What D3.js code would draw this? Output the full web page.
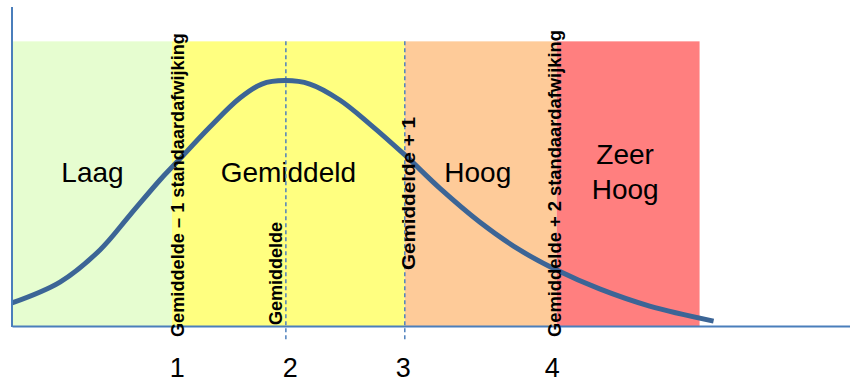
<!DOCTYPE html>
<html><head><meta charset="utf-8">
<script src="https://cdn.jsdelivr.net/npm/d3@7"></script>
<style>html,body{margin:0;padding:0;background:#fff;}svg{display:block;font-family:"Liberation Sans",Arial,sans-serif;}</style>
</head><body><svg id="c" width="850" height="382"></svg>
<script>
// ---- data ----
const bandNames = [["Laag"], ["Gemiddeld"], ["Hoog"], ["Zeer", "Hoog"]];
const bandEdges = [-0.451, 0.956, 3.018, 4.363, 5.628];
const bandTop = 1.16;
const bandColors = ["#e6fdd0", "#ffff80", "#fecb99", "#ff7f7f"];
const curveX = [-0.46, -0.035, 0.319, 0.584, 0.850, 1.0, 1.292, 1.558, 1.752, 1.956, 2.177, 2.442, 2.708, 3.018, 3.327, 3.681, 4.035, 4.363, 4.743, 5.186, 5.752];
const curveY = [0.094, 0.179, 0.310, 0.452, 0.595, 0.668, 0.811, 0.929, 0.986, 1.0, 0.986, 0.921, 0.823, 0.697, 0.562, 0.424, 0.310, 0.228, 0.151, 0.081, 0.020];
const dashedX = [1.965, 3.018];
const tickValues = [1, 2, 3, 4.32];
const tickLabels = ["1", "2", "3", "4"];
const annoLabels = ["Gemiddelde \u2013 1 standaardafwijking", "Gemiddelde", "Gemiddelde + 1", "Gemiddelde + 2 standaardafwijking"];
const annoX = [1.062, 1.929, 3.106, 4.398];
const annoY = [-0.045, 0.004, 0.228, -0.045];

// ---- layout ----
const svg = d3.select("#c");
const x = d3.scaleLinear().domain([-0.46, 6.96]).range([12, 850]);
const y = d3.scaleLinear().domain([0, 1.3]).range([326, 7]);

// bands
const bands = bandNames.map((n, i) => ({name: n, x0: bandEdges[i], x1: bandEdges[i + 1], color: bandColors[i]}));
svg.append("g").selectAll("rect").data(bands).join("rect")
  .attr("x", d => x(d.x0)).attr("width", d => x(d.x1) - x(d.x0))
  .attr("y", y(bandTop)).attr("height", y(0) - y(bandTop))
  .attr("fill", d => d.color);

// band labels
const lab = svg.append("g").selectAll("text").data(bands).join("text")
  .attr("text-anchor", "middle").attr("font-size", 28).attr("fill", "#000")
  .attr("x", d => x((d.x0 + d.x1) / 2) - (d.name.length > 1 || d.name[0] === "Hoog" ? 3 : 0));
lab.each(function(d) {
  const t = d3.select(this);
  if (d.name.length === 1) {
    t.append("tspan").attr("x", t.attr("x")).attr("y", 182).text(d.name[0]);
  } else {
    d.name.forEach((s, j) => t.append("tspan").attr("x", t.attr("x")).attr("y", 164 + j * 35).text(s));
  }
});

// dashed lines
svg.append("g").selectAll("line").data(dashedX).join("line")
  .attr("x1", d => x(d)).attr("x2", d => x(d))
  .attr("y1", y(bandTop)).attr("y2", 340)
  .attr("stroke", "#4f81bd").attr("stroke-width", 1.5).attr("stroke-dasharray", "4,3");

// curve
const pts = curveX.map((v, i) => [v, curveY[i]]);
svg.append("path").datum(pts)
  .attr("d", d3.line().x(d => x(d[0])).y(d => y(d[1])).curve(d3.curveCatmullRom))
  .attr("fill", "none").attr("stroke", "#3c6596").attr("stroke-width", 5);

// axes
svg.append("line").attr("x1", 12).attr("x2", 12).attr("y1", 7).attr("y2", 327)
  .attr("stroke", "#4a7ebb").attr("stroke-width", 2);
const xAxis = d3.axisBottom(x).tickValues(tickValues).tickFormat((d, i) => tickLabels[i]).tickSize(0);
const gx = svg.append("g").attr("transform", `translate(0,${y(0)})`).call(xAxis);
gx.select(".domain").attr("stroke", "#4a7ebb").attr("stroke-width", 2);
gx.selectAll("text").attr("font-size", 27).attr("fill", "#000")
  .attr("font-family", "Liberation Sans, Arial, sans-serif").attr("dy", null).attr("y", 51);

// rotated annotations
const lens = [304, 103, 153, 307];
svg.append("g").selectAll("text").data(annoLabels).join("text")
  .attr("transform", (d, i) => `translate(${x(annoX[i])},${y(annoY[i])}) rotate(-90)`)
  .attr("font-size", 17.5).attr("font-weight", "bold").attr("fill", "#000")
  .attr("textLength", (d, i) => lens[i]).attr("lengthAdjust", "spacingAndGlyphs")
  .text(d => d);
</script></body></html>
